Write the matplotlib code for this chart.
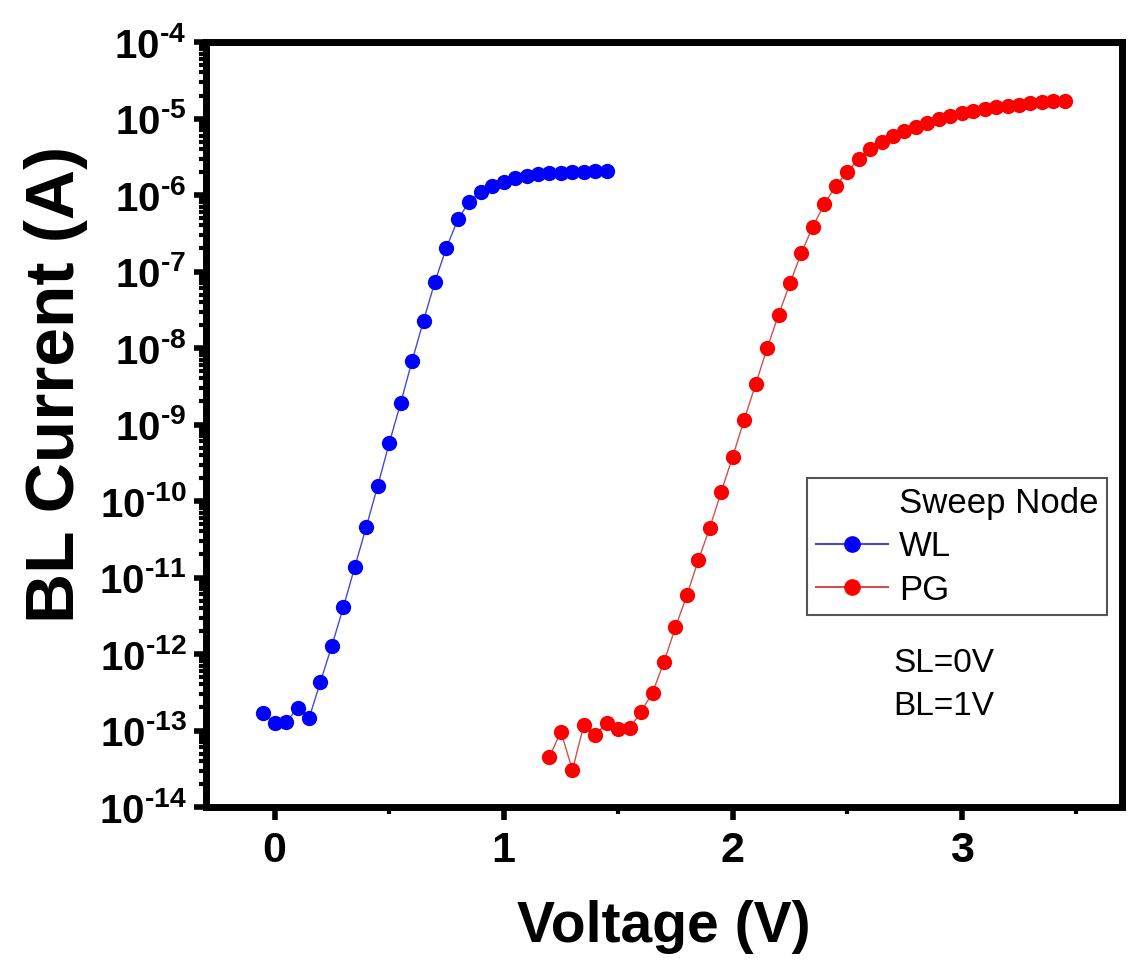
import matplotlib
matplotlib.use("Agg")
import matplotlib.pyplot as plt
from matplotlib.lines import Line2D
from matplotlib.ticker import LogLocator, FixedLocator, NullFormatter

plt.rcParams['font.family'] = ['Liberation Sans', 'DejaVu Sans']
plt.rcParams['mathtext.fontset'] = 'custom'
plt.rcParams['mathtext.rm'] = 'Liberation Sans:bold'
plt.rcParams['mathtext.bf'] = 'Liberation Sans:bold'
plt.rcParams['mathtext.it'] = 'Liberation Sans:bold'

# WL sweep (blue)
wl_v = [-0.05, 0.00, 0.05, 0.10, 0.15, 0.20, 0.25, 0.30, 0.35, 0.40, 0.45, 0.50,
        0.55, 0.60, 0.65, 0.70, 0.75, 0.80, 0.85, 0.90, 0.95, 1.00, 1.05, 1.10,
        1.15, 1.20, 1.25, 1.30, 1.35, 1.40, 1.45]
wl_i = [1.68e-13, 1.24e-13, 1.30e-13, 1.95e-13, 1.44e-13, 4.35e-13, 1.29e-12, 4.1e-12,
        1.38e-11, 4.6e-11, 1.58e-10, 5.7e-10, 1.9e-9, 6.8e-9, 2.28e-8, 7.4e-8,
        2.05e-7, 4.8e-7, 8.2e-7, 1.1e-6, 1.31e-6, 1.49e-6, 1.65e-6, 1.77e-6,
        1.86e-6, 1.92e-6, 1.96e-6, 2.0e-6, 2.02e-6, 2.04e-6, 2.06e-6]

# PG sweep (red)
pg_v = [1.20, 1.25, 1.30, 1.35, 1.40, 1.45, 1.50, 1.55, 1.60, 1.65, 1.70, 1.75,
        1.80, 1.85, 1.90, 1.95, 2.00, 2.05, 2.10, 2.15, 2.20, 2.25, 2.30, 2.35,
        2.40, 2.45, 2.50, 2.55, 2.60, 2.65, 2.70, 2.75, 2.80, 2.85, 2.90, 2.95,
        3.00, 3.05, 3.10, 3.15, 3.20, 3.25, 3.30, 3.35, 3.40, 3.45]
pg_i = [4.55e-14, 9.66e-14, 3.05e-14, 1.18e-13, 8.7e-14, 1.26e-13, 1.04e-13, 1.07e-13,
        1.76e-13, 3.12e-13, 7.9e-13, 2.23e-12, 5.9e-12, 1.69e-11, 4.48e-11, 1.32e-10,
        3.8e-10, 1.15e-9, 3.35e-9, 9.9e-9, 2.7e-8, 7.0e-8, 1.76e-7, 3.86e-7,
        7.6e-7, 1.31e-6, 2.02e-6, 2.93e-6, 3.96e-6, 4.98e-6, 5.9e-6, 6.87e-6,
        7.8e-6, 8.8e-6, 9.75e-6, 1.08e-5, 1.17e-5, 1.25e-5, 1.33e-5, 1.40e-5,
        1.46e-5, 1.51e-5, 1.58e-5, 1.63e-5, 1.67e-5, 1.71e-5]

y_exps = list(range(-14, -3))

fig = plt.figure(figsize=(11.28, 9.73), dpi=100)
ax = fig.add_axes([0.1826, 0.1706, 0.8121, 0.7862])

ax.plot(wl_v, wl_i, '-', color='#4a4ad0', lw=1.0, zorder=2)
ax.plot(wl_v, wl_i, 'o', color='#0000ff', ms=11, mew=0, zorder=3)
ax.plot(pg_v, pg_i, '-', color='#d05050', lw=1.0, zorder=2)
ax.plot(pg_v, pg_i, 'o', color='#ff0000', ms=11, mew=0, zorder=3)

ax.set_yscale('log')
ax.set_ylim(1e-14, 1e-4)
ax.set_xlim(-0.3, 3.7)

ax.set_yticks([10.0 ** e for e in y_exps])
ax.set_yticklabels([r'$10^{\text{-%d}}$' % -e for e in y_exps])
ax.yaxis.set_minor_locator(LogLocator(base=10, subs=range(2, 10), numticks=50))
ax.yaxis.set_minor_formatter(NullFormatter())

ax.set_xticks([0, 1, 2, 3])
ax.set_xticklabels(['0', '1', '2', '3'])
ax.xaxis.set_minor_locator(FixedLocator([-0.5, 0.5, 1.5, 2.5, 3.5]))

for s in ax.spines.values():
    s.set_linewidth(5)

ax.tick_params(axis='both', which='major', direction='out', length=9, width=4,
               top=False, right=False)
ax.tick_params(axis='both', which='minor', direction='out', length=5, width=3,
               top=False, right=False)
ax.tick_params(axis='y', which='major', labelsize=29, pad=5)
ax.tick_params(axis='x', which='major', labelsize=31, pad=8)
for lab in ax.get_xticklabels():
    lab.set_fontweight('bold')

ax.set_xlabel('Voltage (V)', fontsize=41, fontweight='bold')
ax.xaxis.set_label_coords(0.5, -0.122)
ax.set_ylabel('BL Current (A)', fontsize=50, fontweight='bold')
ax.yaxis.set_label_coords(-0.129, 0.552)

handles = [Line2D([], [], linestyle='none', label='Sweep Node'),
           Line2D([], [], color='#4a4ad0', lw=1.5, marker='o', ms=11,
                  mfc='#0000ff', mec='#0000ff', label='WL'),
           Line2D([], [], color='#d05050', lw=1.5, marker='o', ms=11,
                  mfc='#ff0000', mec='#ff0000', label='PG')]
leg = ax.legend(handles=handles, loc='upper left', bbox_to_anchor=(0.656, 0.430),
                fontsize=25, frameon=True, fancybox=False, framealpha=1,
                borderaxespad=0, handlelength=2.1, handletextpad=0.3,
                labelspacing=0.3, borderpad=0.25)
leg.get_frame().set_edgecolor('#555555')
leg.get_frame().set_linewidth(1.5)

ax.text(0.750, 0.188, 'SL=0V', transform=ax.transAxes, fontsize=24, va='center', ha='left')
ax.text(0.750, 0.132, 'BL=1V', transform=ax.transAxes, fontsize=24, va='center', ha='left')

fig.savefig('out.png', dpi=100)
